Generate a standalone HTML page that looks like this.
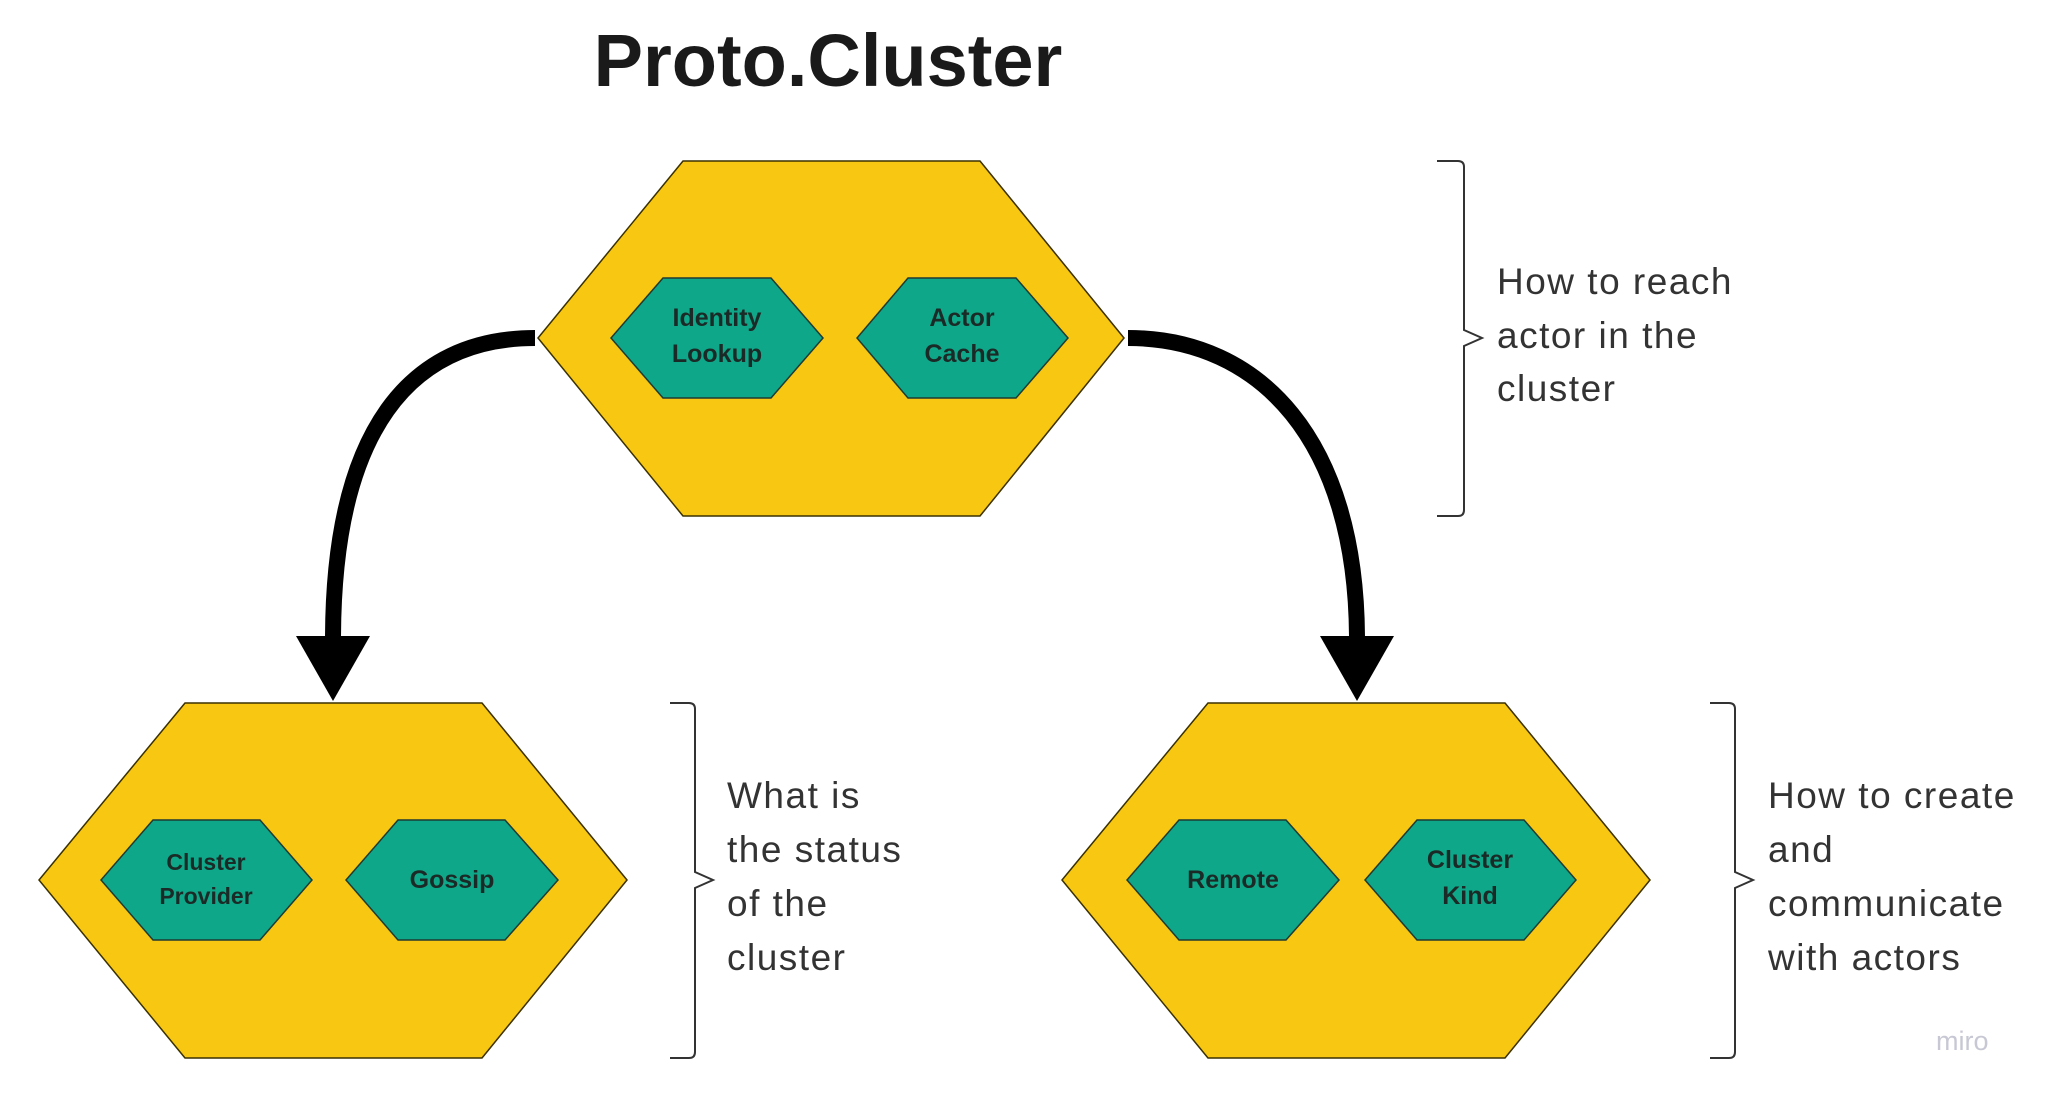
<!DOCTYPE html>
<html><head><meta charset="utf-8"><style>
html,body{margin:0;padding:0;background:#fff;}
body{width:2048px;height:1098px;overflow:hidden;}
svg text{font-family:"Liberation Sans",sans-serif;}
</style></head><body>
<svg width="2048" height="1098" viewBox="0 0 2048 1098" xmlns="http://www.w3.org/2000/svg">
<text x="828" y="86" text-anchor="middle" font-size="74" font-weight="bold" fill="#1a1a1a">Proto.Cluster</text>

<polygon points="683,161 980,161 1124,338 980,516 683,516 538,338" fill="#f8c712" stroke="#3a3000" stroke-width="1.5"/>
<polygon points="663,278 771,278 823,338 771,398 663,398 611,338" fill="#0ea789" stroke="#1f3b33" stroke-width="1.5"/>
<polygon points="908,278 1016,278 1068,338 1016,398 908,398 857,338" fill="#0ea789" stroke="#1f3b33" stroke-width="1.5"/>
<g font-size="25" font-weight="bold" fill="#1b2a26" text-anchor="middle">
<text x="717" y="326">Identity</text><text x="717" y="362">Lookup</text>
<text x="962" y="326">Actor</text><text x="962" y="362">Cache</text>
</g>

<polygon points="185,703 482,703 627,880 482,1058 185,1058 39,880" fill="#f8c712" stroke="#3a3000" stroke-width="1.5"/>
<polygon points="153,820 260,820 312,880 260,940 153,940 101,880" fill="#0ea789" stroke="#1f3b33" stroke-width="1.5"/>
<polygon points="398,820 505,820 558,880 505,940 398,940 346,880" fill="#0ea789" stroke="#1f3b33" stroke-width="1.5"/>
<g font-size="23" font-weight="bold" fill="#1b2a26" text-anchor="middle">
<text x="206" y="870">Cluster</text><text x="206" y="904">Provider</text>
<text x="452" y="888" font-size="25">Gossip</text>
</g>

<polygon points="1208,703 1505,703 1650,880 1505,1058 1208,1058 1062,880" fill="#f8c712" stroke="#3a3000" stroke-width="1.5"/>
<polygon points="1179,820 1286,820 1339,880 1286,940 1179,940 1127,880" fill="#0ea789" stroke="#1f3b33" stroke-width="1.5"/>
<polygon points="1417,820 1524,820 1576,880 1524,940 1417,940 1365,880" fill="#0ea789" stroke="#1f3b33" stroke-width="1.5"/>
<g font-size="25" font-weight="bold" fill="#1b2a26" text-anchor="middle">
<text x="1233" y="888">Remote</text>
<text x="1470" y="868">Cluster</text><text x="1470" y="904">Kind</text>
</g>

<path d="M535,338 C410,338 333,430 333,640" fill="none" stroke="#000" stroke-width="16"/>
<polygon points="296,636 370,636 333,701" fill="#000"/>
<path d="M1128,338 C1260,338 1357,440 1357,640" fill="none" stroke="#000" stroke-width="16"/>
<polygon points="1320,636 1394,636 1357,701" fill="#000"/>

<g fill="none" stroke="#333" stroke-width="2">
<path d="M1437,161 L1458,161 Q1464,161 1464,167 L1464,330 L1482,338 L1464,346 L1464,510 Q1464,516 1458,516 L1437,516"/>
<path d="M670,703 L689,703 Q695,703 695,709 L695,872 L713,880 L695,888 L695,1052 Q695,1058 689,1058 L670,1058"/>
<path d="M1710,703 L1729,703 Q1735,703 1735,709 L1735,872 L1753,880 L1735,888 L1735,1052 Q1735,1058 1729,1058 L1710,1058"/>
</g>
<g font-size="37" fill="#333" letter-spacing="1.5">
<text x="1497" y="294">How to reach</text>
<text x="1497" y="348">actor in the</text>
<text x="1497" y="401">cluster</text>
<text x="727" y="808">What is</text>
<text x="727" y="862">the status</text>
<text x="727" y="916">of the</text>
<text x="727" y="970">cluster</text>
<text x="1768" y="808">How to create</text>
<text x="1768" y="862">and</text>
<text x="1768" y="916">communicate</text>
<text x="1768" y="970">with actors</text>
</g>
<text x="1936" y="1050" font-size="27" fill="#c8c8d4">miro</text>
</svg>
</body></html>
